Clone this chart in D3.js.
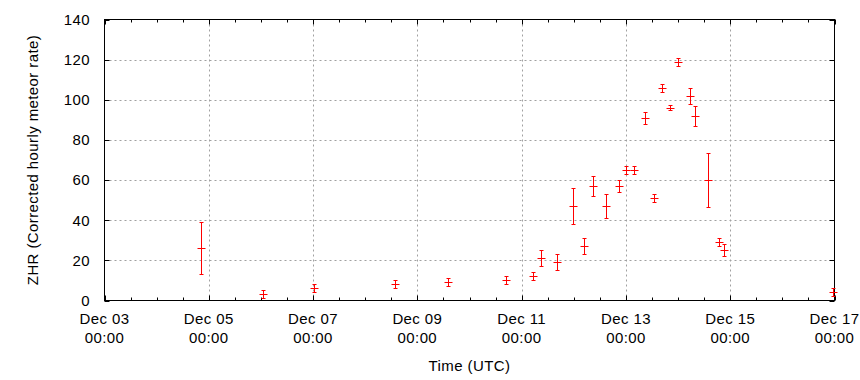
<!DOCTYPE html>
<html>
<head>
<meta charset="utf-8">
<script src="https://cdn.jsdelivr.net/npm/d3@7"></script>
<style>
  html, body { margin: 0; padding: 0; background: #fff; }
  svg { display: block; }
  text { font-family: "Liberation Sans", Arial, sans-serif; font-size: 15px; letter-spacing: 0.4px; fill: #000; }
</style>
</head>
<body>
<svg id="chart" width="860" height="380"></svg>
<script>
// Observation times (UTC), ZHR values and symmetric error
const times = [
  "2023-12-04T20:30", "2023-12-06T01:00", "2023-12-07T00:15", "2023-12-08T13:40",
  "2023-12-09T13:55", "2023-12-10T17:00", "2023-12-11T05:00", "2023-12-11T09:07",
  "2023-12-11T16:05", "2023-12-11T23:30", "2023-12-12T04:35", "2023-12-12T08:40",
  "2023-12-12T14:53", "2023-12-12T20:38", "2023-12-13T00:00", "2023-12-13T03:50",
  "2023-12-13T08:53", "2023-12-13T12:57", "2023-12-13T16:48", "2023-12-13T20:24",
  "2023-12-13T23:45", "2023-12-14T05:17", "2023-12-14T07:55", "2023-12-14T13:55",
  "2023-12-14T18:58", "2023-12-14T21:22", "2023-12-16T23:17"
];
const zhr = [26, 3, 6, 8, 9, 10, 12, 21, 19, 47, 27, 57, 47, 57, 65, 65, 91, 51, 106, 96, 119, 102, 92, 60, 29, 25, 4];
const zhrErr = [13, 2, 2, 2, 2, 2, 2, 4, 4, 9, 4, 5, 6, 3, 2, 2, 3, 2, 2, 1.3, 2, 4, 5, 13.3, 2, 3, 2];

const xDomain = ["2023-12-03T00:00", "2023-12-17T00:00"];
const yTicks = [0, 20, 40, 60, 80, 100, 120, 140];
const xLabelDays = ["2023-12-03", "2023-12-05", "2023-12-07", "2023-12-09", "2023-12-11", "2023-12-13", "2023-12-15", "2023-12-17"];

const parse = d3.utcParse("%Y-%m-%dT%H:%M");
const parseDay = d3.utcParse("%Y-%m-%d");
const data = times.map((t, i) => ({ t: parse(t), v: zhr[i], e: zhrErr[i] }));

const svg = d3.select("#chart");
const L = 104.5, R = 834.5, T = 19.5, B = 300.5;

const x = d3.scaleUtc().domain(xDomain.map(parse)).range([L, R]);
const y = d3.scaleLinear().domain([0, 140]).range([B, T]);

const majorX = xLabelDays.map(parseDay);
const minorX = d3.utcHour.every(12).range(x.domain()[0], d3.utcHour.offset(x.domain()[1], 1));

// Grid
const grid = svg.append("g").attr("stroke", "#a0a0a0").attr("stroke-width", 1).attr("stroke-dasharray", "2,3");
grid.selectAll("line.gy").data(yTicks.filter(v => v > 0 && v < 140)).enter().append("line")
  .attr("x1", L).attr("x2", R).attr("y1", d => Math.round(y(d)) + 0.5).attr("y2", d => Math.round(y(d)) + 0.5);
grid.selectAll("line.gx").data(majorX.slice(1, -1)).enter().append("line")
  .attr("y1", T).attr("y2", B).attr("x1", d => Math.round(x(d)) + 0.5).attr("x2", d => Math.round(x(d)) + 0.5);

// Ticks
const ticks = svg.append("g").attr("stroke", "#000").attr("stroke-width", 1);
const isMajor = d => majorX.some(m => +m === +d);
minorX.forEach(d => {
  const xx = Math.round(x(d)) + 0.5;
  const len = isMajor(d) ? 5 : 3;
  ticks.append("line").attr("x1", xx).attr("x2", xx).attr("y1", B).attr("y2", B - len);
  ticks.append("line").attr("x1", xx).attr("x2", xx).attr("y1", T).attr("y2", T + len);
});
yTicks.forEach(v => {
  const yy = Math.round(y(v)) + 0.5;
  ticks.append("line").attr("x1", L).attr("x2", L + 5).attr("y1", yy).attr("y2", yy);
  ticks.append("line").attr("x1", R).attr("x2", R - 5).attr("y1", yy).attr("y2", yy);
});

// Border
svg.append("rect").attr("x", L).attr("y", T).attr("width", R - L).attr("height", B - T)
  .attr("fill", "none").attr("stroke", "#000").attr("stroke-width", 1);

// Y tick labels
svg.append("g").selectAll("text").data(yTicks).enter().append("text")
  .attr("x", 90).attr("y", d => y(d)).attr("dy", "0.36em").attr("text-anchor", "end")
  .text(d => d);

// X tick labels
const fmtDay = d3.utcFormat("%b %d");
const fmtTime = d3.utcFormat("%H:%M");
const xl = svg.append("g").selectAll("g").data(majorX).enter().append("g");
xl.append("text").attr("x", d => x(d)).attr("y", 324).attr("text-anchor", "middle").text(d => fmtDay(d));
xl.append("text").attr("x", d => x(d)).attr("y", 343).attr("text-anchor", "middle").text(d => fmtTime(d));

// Axis titles
svg.append("text").attr("x", (L + R) / 2).attr("y", 370.5).attr("text-anchor", "middle").text("Time (UTC)");
svg.append("text").attr("transform", `translate(38,160) rotate(-90)`)
  .attr("text-anchor", "middle").text("ZHR (Corrected hourly meteor rate)");

// Error bars
const eb = svg.append("g").attr("stroke", "#ff0000").attr("stroke-width", 1).attr("fill", "none");
data.forEach(d => {
  const cx = Math.round(x(d.t)) + 0.5;
  const cy = Math.round(y(d.v)) + 0.5;
  const y1 = Math.round(y(d.v + d.e)) + 0.5;
  const y2 = Math.round(y(d.v - d.e)) + 0.5;
  eb.append("line").attr("x1", cx).attr("x2", cx).attr("y1", y1).attr("y2", y2);
  eb.append("line").attr("x1", cx - 2).attr("x2", cx + 2).attr("y1", y1).attr("y2", y1);
  eb.append("line").attr("x1", cx - 2).attr("x2", cx + 2).attr("y1", y2).attr("y2", y2);
  eb.append("line").attr("x1", cx - 4).attr("x2", cx + 4).attr("y1", cy).attr("y2", cy);
});
</script>
</body>
</html>
